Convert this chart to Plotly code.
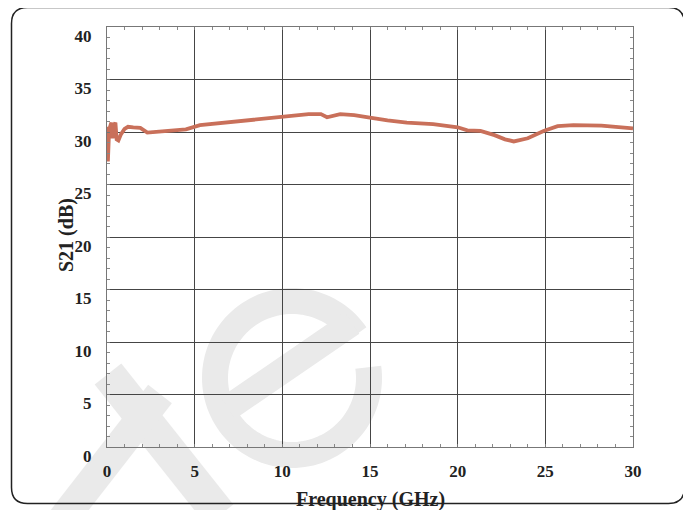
import numpy as np
import plotly.graph_objects as go

# ---- data ----
freq_ghz = [0.0, 0.05, 0.12, 0.25, 0.32, 0.40, 0.48, 0.55, 0.65, 0.80, 1.0, 1.2, 1.5, 1.9,
            2.3, 2.7, 3.6, 4.5, 5.3, 6.8, 8.7, 9.9, 11.5, 12.2, 12.55, 13.3, 14.1, 14.9,
            16.0, 17.1, 18.6, 20.0, 20.55, 21.3, 22.1, 22.7, 23.2, 24.0, 24.9, 25.7,
            26.6, 28.2, 30.0]
s21_db = [30.5, 27.2, 30.2, 30.9, 29.4, 30.6, 30.9, 29.3, 29.2, 29.8, 30.3, 30.5, 30.45, 30.4,
          29.95, 30.0, 30.1, 30.25, 30.65, 30.9, 31.2, 31.45, 31.7, 31.7, 31.4, 31.7, 31.6, 31.4,
          31.1, 30.9, 30.75, 30.45, 30.15, 30.1, 29.7, 29.3, 29.1, 29.4, 30.1, 30.55,
          30.65, 30.6, 30.35]
x_ticks = [0, 5, 10, 15, 20, 25, 30]
y_ticks = [0, 5, 10, 15, 20, 25, 30, 35, 40]
x_title = "Frequency (GHz)"
y_title = "S21 (dB)"

# page body has an 8px margin; compensate so the plot lands where the reference has it
OFF = 8
W, H = 691 - OFF, 510 - OFF
PL, PR, PT, PB = 107, 633, 27, 447          # plot area in window pixels
L, T = PL - OFF, PT - OFF
R, B = W - (PR - OFF), H - (PB - OFF)
PW, PH = PR - PL, PB - PT

def px(p):
    return (p - PL) / PW

def py(p):
    return (PB - p) / PH

FONT = "Liberation Serif, Times New Roman, serif"
WM = "#eaeaea"
TXT = "#222222"

fig = go.Figure()
fig.add_trace(go.Scatter(x=freq_ghz, y=s21_db, mode="lines",
                         line=dict(color="#c9705a", width=3.8),
                         showlegend=False, hoverinfo="skip"))

shapes = []
# watermark "e": ring with small gap + bar
cx, cy, r = 292, 378, 77
ang = np.radians(np.linspace(34, 368, 120))
pts = [(px(cx + r * np.cos(a)), py(cy - r * np.sin(a))) for a in ang]
path = "M " + " L ".join(f"{a:.4f},{b:.4f}" for a, b in pts)
shapes.append(dict(type="path", path=path, xref="paper", yref="paper",
                   line=dict(color=WM, width=26), layer="below"))
shapes.append(dict(type="line", xref="paper", yref="paper",
                   x0=px(352), y0=py(323), x1=px(228), y1=py(408),
                   line=dict(color=WM, width=26), layer="below"))
# watermark "t"
shapes.append(dict(type="line", xref="paper", yref="paper",
                   x0=px(108), y0=py(374), x1=px(220), y1=py(515),
                   line=dict(color=WM, width=34), layer="below"))
shapes.append(dict(type="line", xref="paper", yref="paper",
                   x0=px(62), y0=py(520), x1=px(160), y1=py(394),
                   line=dict(color=WM, width=30), layer="below"))
# rounded outer frame
x0f, x1f, y0f, y1f, rr = 11.5, 684.5, 7.5, 503.5, 16
fp = (f"M {px(x0f+rr)},{py(y0f)} L {px(x1f-rr)},{py(y0f)} "
      f"Q {px(x1f)},{py(y0f)} {px(x1f)},{py(y0f+rr)} "
      f"L {px(x1f)},{py(y1f-rr)} Q {px(x1f)},{py(y1f)} {px(x1f-rr)},{py(y1f)} "
      f"L {px(x0f+rr)},{py(y1f)} Q {px(x0f)},{py(y1f)} {px(x0f)},{py(y1f-rr)} "
      f"L {px(x0f)},{py(y0f+rr)} Q {px(x0f)},{py(y0f)} {px(x0f+rr)},{py(y0f)} Z")
shapes.append(dict(type="path", path=fp, xref="paper", yref="paper",
                   line=dict(color="#222222", width=1.5), layer="above"))

axis_common = dict(
    showgrid=True, gridcolor="#454545", gridwidth=1.3,
    showline=True, linecolor="#777777", linewidth=1.2, mirror="ticks",
    zeroline=False, ticks="inside", ticklen=3, tickcolor="#777777",
    tickfont=dict(family=FONT, size=17, color=TXT, weight="bold"),
    minor=dict(dtick=1, ticks="inside", ticklen=3, tickcolor="#888888", showgrid=False),
)

annotations = [
    dict(text=x_title, xref="paper", yref="paper", x=px(370), y=py(499),
         xanchor="center", yanchor="middle", showarrow=False,
         font=dict(family=FONT, size=20, color=TXT, weight="bold")),
    dict(text=y_title, xref="paper", yref="paper", x=px(66), y=py(235),
         xanchor="center", yanchor="middle", showarrow=False, textangle=-90,
         font=dict(family=FONT, size=20, color=TXT, weight="bold")),
]

fig.update_layout(
    width=W, height=H,
    margin=dict(l=L, r=R, t=T, b=B, pad=0),
    paper_bgcolor="white", plot_bgcolor="rgba(0,0,0,0)",
    shapes=shapes, annotations=annotations,
    xaxis=dict(range=[0, 30], tickvals=x_ticks, ticktext=[str(v) for v in x_ticks],
               ticklabelstandoff=8, **axis_common),
    yaxis=dict(range=[0, 40], tickvals=y_ticks, ticktext=[str(v) for v in y_ticks],
               ticklabelstandoff=11, ticklabelshift=9, **axis_common),
)
fig.write_html("out.html")
